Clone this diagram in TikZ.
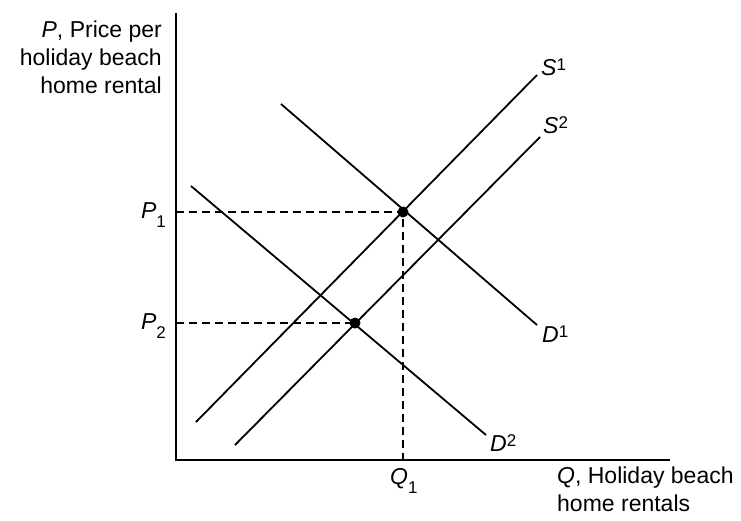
\documentclass[tikz,border=0pt]{standalone}
\usepackage{fontspec}
\setmainfont{Liberation Sans}
\usetikzlibrary{positioning}

\newcommand{\lowsub}[1]{\raisebox{-9pt}{\fontsize{17}{17}\selectfont #1}}
\newcommand{\highsup}[1]{\raisebox{4.5pt}{\fontsize{17}{17}\selectfont #1}}

\begin{document}
\begin{tikzpicture}[
    x=1pt, y=-1pt,
    font=\fontsize{23}{28}\selectfont,
    axis/.style={line width=1.8pt},
    curve/.style={line width=1.8pt},
    guide/.style={line width=1.5pt, dash pattern=on 8pt off 5pt},
    eqdot/.style={circle, fill, inner sep=0pt, minimum size=11pt},
    lbl/.style={inner sep=0pt},
  ]
  \useasboundingbox (0,0) rectangle (741,520);
  % axes
  \coordinate (O)    at (176,460);
  \coordinate (ytop) at (176,13);
  \coordinate (xend) at (670,460);
  \draw[axis] (ytop) -- (O) -- (xend);
  \node[lbl, anchor=north east, align=right] (ylab) at (162,20.5)
    {\textit{P}, Price per\\holiday beach\\home rental};
  \node[lbl, anchor=north west, align=left] (xlab) at (557,466.5)
    {\textit{Q}, Holiday beach\\home rentals};

  % supply and demand curves
  \coordinate (s1a) at (196,422);  \coordinate (s1b) at (537,75);
  \coordinate (s2a) at (235,445);  \coordinate (s2b) at (540,137);
  \coordinate (d1a) at (281,104);  \coordinate (d1b) at (537,325);
  \coordinate (d2a) at (191,186);  \coordinate (d2b) at (486,435);
  \draw[curve] (s1a) -- (s1b);
  \draw[curve] (s2a) -- (s2b);
  \draw[curve] (d1a) -- (d1b);
  \draw[curve] (d2a) -- (d2b);
  \node[lbl, anchor=base west] (s1lab) at (541,75) {\textit{S}\highsup{1}};
  \node[lbl, anchor=base west] (s2lab) at (543,133) {\textit{S}\highsup{2}};
  \node[lbl, anchor=base west] (d1lab) at (542,342) {\textit{D}\highsup{1}};
  \node[lbl, anchor=base west] (d2lab) at (490,451) {\textit{D}\highsup{2}};

  % equilibria
  \node[eqdot] (eq1) at (403,212) {};
  \node[eqdot] (eq2) at (355,323) {};
  \coordinate (p1) at (176,212);
  \coordinate (p2) at (176,323);
  \coordinate (q1) at (403,460);
  \draw[guide] (p1) -- (eq1.center) -- (q1);
  \draw[guide] (p2) -- (eq2.center);
  \node[lbl, anchor=base east] (p1lab) at (166,218) {\textit{P}\lowsub{1}};
  \node[lbl, anchor=base east] (p2lab) at (166,329) {\textit{P}\lowsub{2}};
  \node[lbl, anchor=base west] (q1lab) at (390,484) {\textit{Q}\lowsub{1}};
\end{tikzpicture}
\end{document}
